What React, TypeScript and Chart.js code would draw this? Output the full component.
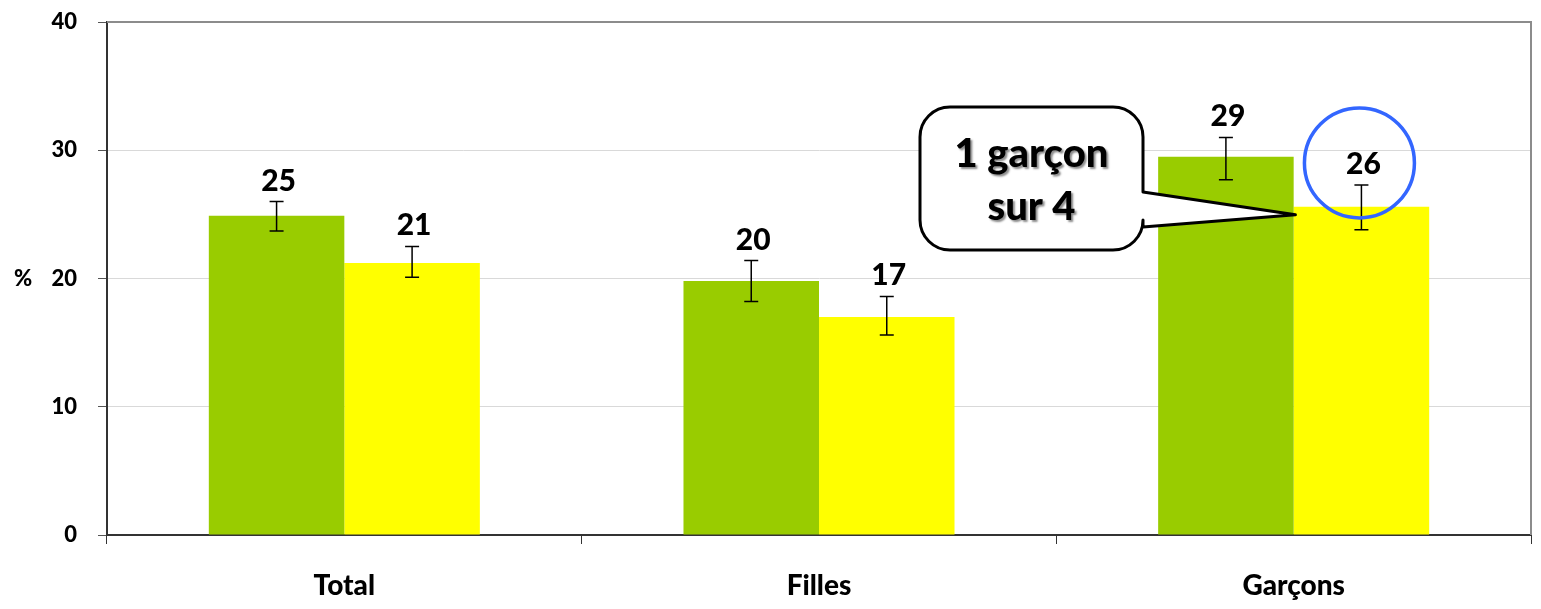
import React, { useEffect, useRef } from "react";
import { Chart, registerables } from "chart.js";

Chart.register(...registerables);

const categories = ["Total", "Filles", "Garçons"];
const series2Values = [24.9, 19.8, 29.5];
const series1Values = [21.2, 17.0, 25.6];
const series2Low = [23.7, 18.2, 27.7];
const series2High = [26.0, 21.4, 31.0];
const series1Low = [20.1, 15.6, 23.8];
const series1High = [22.5, 18.6, 27.3];
const series2Labels = ["25", "20", "29"];
const series1Labels = ["21", "17", "26"];
const yTicks = [0, 10, 20, 30, 40];
const calloutLines = ["1 garçon", "sur 4"];

const FONT = "Lato, 'Open Sans', sans-serif";
const W = "900";

const overlayPlugin = {
  id: "overlay",
  afterDatasetsDraw(chart: any) {
    const ctx = chart.ctx;
    const ys = chart.scales.y;
    const area = chart.chartArea;
    ctx.save();
    ctx.strokeStyle = "#8c8c8c";
    ctx.lineWidth = 2;
    ctx.beginPath();
    ctx.moveTo(area.left, area.top);
    ctx.lineTo(area.right, area.top);
    ctx.lineTo(area.right, area.bottom);
    ctx.stroke();
    ctx.restore();

    const lows = [series2Low, series1Low];
    const highs = [series2High, series1High];
    const labels = [series2Labels, series1Labels];
    chart.data.datasets.forEach((ds: any, di: number) => {
      const meta = chart.getDatasetMeta(di);
      meta.data.forEach((bar: any, i: number) => {
        const x = bar.x;
        const yl = ys.getPixelForValue(lows[di][i]);
        const yh = ys.getPixelForValue(highs[di][i]);
        ctx.save();
        ctx.strokeStyle = "#000";
        ctx.lineWidth = 1.5;
        ctx.beginPath();
        ctx.moveTo(x, yl);
        ctx.lineTo(x, yh);
        ctx.moveTo(x - 7, yl);
        ctx.lineTo(x + 7, yl);
        ctx.moveTo(x - 7, yh);
        ctx.lineTo(x + 7, yh);
        ctx.stroke();
        ctx.fillStyle = "#000";
        ctx.font = `${W} 30px ${FONT}`;
        ctx.textAlign = "center";
        ctx.textBaseline = "alphabetic";
        ctx.fillText(labels[di][i], x + 2, yh - 11);
        ctx.restore();
      });
    });

    ctx.save();
    ctx.fillStyle = "#000";
    ctx.font = `${W} 22px ${FONT}`;
    ctx.textAlign = "left";
    ctx.textBaseline = "middle";
    ctx.fillText("%", 14, ys.getPixelForValue(20));
    ctx.restore();

    const meta1 = chart.getDatasetMeta(1);
    const last = meta1.data[2];
    const cy = ys.getPixelForValue(series1High[2]) - 22;
    ctx.save();
    ctx.strokeStyle = "#3366ff";
    ctx.lineWidth = 3.5;
    ctx.beginPath();
    ctx.ellipse(last.x - 2, cy, 55, 55, 0, 0, Math.PI * 2);
    ctx.stroke();
    ctx.restore();

    const bx = 920, by = 107, bw = 223, bh = 143, r = 30;
    const tipX = last.x - 66;
    const tipY = ys.getPixelForValue(series1Values[2]) + 8;
    ctx.save();
    ctx.beginPath();
    ctx.moveTo(bx + r, by);
    ctx.lineTo(bx + bw - r, by);
    ctx.arcTo(bx + bw, by, bx + bw, by + r, r);
    ctx.lineTo(bx + bw, 192);
    ctx.lineTo(tipX, tipY);
    ctx.lineTo(bx + bw, 227);
    ctx.lineTo(bx + bw, by + bh - r);
    ctx.arcTo(bx + bw, by + bh, bx + bw - r, by + bh, r);
    ctx.lineTo(bx + r, by + bh);
    ctx.arcTo(bx, by + bh, bx, by + bh - r, r);
    ctx.lineTo(bx, by + r);
    ctx.arcTo(bx, by, bx + r, by, r);
    ctx.closePath();
    ctx.fillStyle = "#fff";
    ctx.fill();
    ctx.strokeStyle = "#000";
    ctx.lineWidth = 3;
    ctx.lineJoin = "round";
    ctx.stroke();

    ctx.font = `${W} 40px ${FONT}`;
    ctx.textAlign = "center";
    ctx.textBaseline = "alphabetic";
    ctx.fillStyle = "#000";
    ctx.shadowColor = "rgba(0,0,0,0.45)";
    ctx.shadowOffsetX = 2;
    ctx.shadowOffsetY = 2;
    ctx.shadowBlur = 2;
    ctx.fillText(calloutLines[0], bx + bw / 2, 167);
    ctx.fillText(calloutLines[1], bx + bw / 2, 220);
    ctx.restore();
  },
};

export default function App() {
  const ref = useRef<HTMLCanvasElement>(null);
  useEffect(() => {
    if (!ref.current) return;
    const chart = new Chart(ref.current, {
      type: "bar",
      data: {
        labels: categories,
        datasets: [
          {
            data: series2Values,
            backgroundColor: "#99cc00",
            categoryPercentage: 0.571,
            barPercentage: 1.0,
          },
          {
            data: series1Values,
            backgroundColor: "#ffff00",
            categoryPercentage: 0.571,
            barPercentage: 1.0,
          },
        ],
      },
      options: {
        responsive: false,
        animation: false,
        events: [],
        layout: { padding: { left: 0, top: 22, right: 10, bottom: 0 } },
        plugins: {
          legend: { display: false },
          tooltip: { enabled: false },
          title: { display: false },
        },
        scales: {
          x: {
            grid: {
              offset: true,
              drawOnChartArea: false,
              drawTicks: true,
              tickLength: 9,
              tickColor: "#333",
            },
            border: { color: "#333", width: 2 },
            ticks: {
              color: "#000",
              font: { family: FONT, size: 28, weight: W },
              padding: 25,
            },
            afterFit(scale: any) {
              scale.height = 74;
              scale.paddingLeft = 0;
              scale.paddingRight = 0;
            },
          },
          y: {
            min: 0,
            max: 40,
            afterBuildTicks(scale: any) {
              scale.ticks = yTicks.map((v) => ({ value: v }));
            },
            grid: {
              color: "#d9d9d9",
              lineWidth: 1,
              tickLength: 9,
              tickColor: "#555",
            },
            border: { color: "#333", width: 2 },
            ticks: {
              color: "#000",
              font: { family: FONT, size: 22, weight: W },
              padding: 21,
            },
            afterFit(scale: any) {
              scale.width = 107;
              scale.paddingTop = 0;
              scale.paddingBottom = 0;
            },
          },
        },
      },
      plugins: [overlayPlugin],
    });
    return () => chart.destroy();
  }, []);
  return (
    <div style={{ position: "fixed", left: 0, top: 0, width: 1541, height: 609, background: "#fff" }}>
      <canvas ref={ref} width={1541} height={609} style={{ width: 1541, height: 609 }} />
    </div>
  );
}
